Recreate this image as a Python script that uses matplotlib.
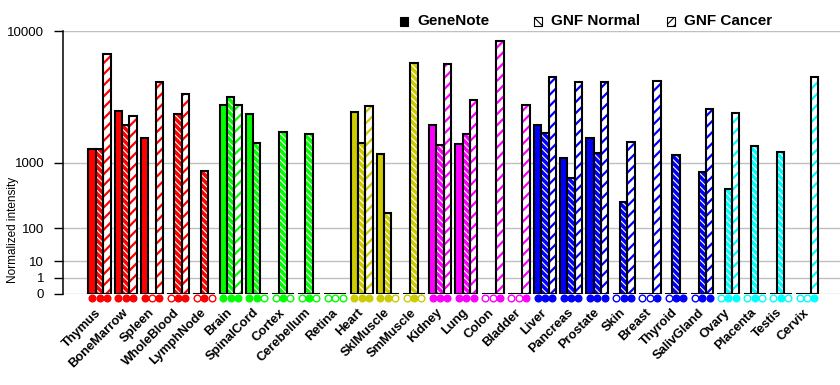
import numpy as np
import matplotlib
matplotlib.use("Agg")
import matplotlib.pyplot as plt
from matplotlib.patches import Rectangle

plt.rcParams['font.family'] = ['Liberation Sans', 'DejaVu Sans']

categories = ["Thymus", "BoneMarrow", "Spleen", "WholeBlood", "LymphNode",
              "Brain", "SpinalCord", "Cortex", "Cerebellum", "Retina",
              "Heart", "SklMuscle", "SmMuscle",
              "Kidney", "Lung", "Colon", "Bladder",
              "Liver", "Pancreas", "Prostate", "Skin", "Breast", "Thyroid", "SalivGland",
              "Ovary", "Placenta", "Testis", "Cervix"]

tissue_group = (["immune"] * 5 + ["neural"] * 5 + ["muscle"] * 3 +
                ["epithelial"] * 4 + ["glandular"] * 7 + ["reproductive"] * 4)
group_colors = {"immune": "#ff0000", "neural": "#00ff00", "muscle": "#cccc00",
                "epithelial": "#ff00ff", "glandular": "#0000ff", "reproductive": "#00ffff"}

genenote = [1400, 3000, 1780, 0, 0, 3370, 2860, 0, 0, 0, 2970, 1230, 0,
            2300, 1540, 0, 0, 2320, 1110, 1780, 0, 0, 0, 0, 0, 0, 0, 0]
gnf_normal = [1400, 2320, 0, 2860, 800, 3860, 1600, 2020, 1940, 0, 1580, 200, 6550,
              1510, 1940, 0, 0, 1980, 660, 1270, 310, 0, 1220, 790, 480, 1500, 1300, 0]
gnf_cancer = [7440, 2730, 4930, 4020, 0, 3370, 0, 0, 0, 0, 3270, 0, 0,
              6460, 3670, 8820, 3350, 5320, 4930, 4930, 1640, 4980, 0, 3140, 2920, 0, 0, 5320]

# present calls (1 = filled marker, 0 = open marker)
call_genenote = [1, 1, 1, 0, 0, 1, 1, 0, 0, 0, 1, 1, 0, 1, 1, 0, 0, 1, 1, 1, 0, 0, 0, 0, 0, 0, 0, 0]
call_normal = [1, 1, 0, 1, 1, 1, 1, 1, 1, 0, 1, 1, 1, 1, 1, 0, 0, 1, 1, 1, 1, 0, 1, 1, 1, 1, 1, 0]
call_cancer = [1, 1, 1, 1, 0, 1, 0, 0, 0, 0, 1, 0, 0, 1, 1, 1, 1, 1, 1, 1, 1, 1, 1, 1, 1, 0, 0, 1]

yticks = [0, 1, 10, 100, 1000, 10000]
ytick_labels = ["0", "1", "10", "100", "1000", "10000"]

W, H = 840, 385
fig = plt.figure(figsize=(W / 100, H / 100), dpi=100)
ax = fig.add_axes([63 / W, (H - 294) / H, (840 - 63) / W, (294 - 31.3) / H])

EXP = np.log10(2)


def fwd(v):
    return np.power(np.clip(np.asarray(v, float), 0, None), EXP)


def inv(v):
    return np.power(np.clip(np.asarray(v, float), 0, None), 1 / EXP)


ax.set_yscale('function', functions=(fwd, inv))

x = np.arange(len(categories))
colors = [group_colors[g] for g in tissue_group]
bw = 0.28
offs = [-bw, 0, bw]
lw_edge = 1.5

# GeneNote: solid
ax.bar(x + offs[0], genenote, width=bw, color=colors, edgecolor='black', linewidth=lw_edge, zorder=3)

# GNF Normal: colour with dense white back-slash hatch
with plt.rc_context({'hatch.linewidth': 0.8}):
    ax.bar(x + offs[1], gnf_normal, width=bw, color=colors, edgecolor='white',
           hatch='\\\\\\\\\\', linewidth=0, zorder=3)
ax.bar(x + offs[1], gnf_normal, width=bw, fill=False, edgecolor='black', linewidth=lw_edge, zorder=4)

# GNF Cancer: white with coloured forward-slash hatch
with plt.rc_context({'hatch.linewidth': 1.6}):
    ax.bar(x + offs[2], gnf_cancer, width=bw, color='white', edgecolor=colors,
           hatch='///', linewidth=0, zorder=3)
ax.bar(x + offs[2], gnf_cancer, width=bw, fill=False, edgecolor='black', linewidth=lw_edge, zorder=4)

# call markers below the axis
trans = ax.get_xaxis_transform()
for k, calls in enumerate([call_genenote, call_normal, call_cancer]):
    for i, c in enumerate(calls):
        ax.plot(x[i] + offs[k], -0.016, marker='o', markersize=4.8,
                markerfacecolor=colors[i] if c else 'white',
                markeredgecolor=colors[i], markeredgewidth=1.0,
                transform=trans, clip_on=False, zorder=5)

ax.set_xlim(-1.393, 28.26)
ax.set_ylim(0, 10000)
ax.set_yticks(yticks)
ax.set_yticklabels(ytick_labels, fontsize=9.5)
ax.yaxis.set_minor_locator(matplotlib.ticker.NullLocator())
ax.tick_params(axis='y', length=6.5, width=1.0, pad=7, colors='black')
ax.set_xticks(x)
ax.set_xticklabels(categories, rotation=45, ha='right', va='center',
                   rotation_mode='anchor', fontsize=9.3, fontweight='bold')
ax.tick_params(axis='x', length=0, pad=12)

ax.grid(axis='y', color='#c0c0c0', linewidth=1.0, zorder=0)
ax.set_axisbelow(True)
for s in ['top', 'right', 'bottom']:
    ax.spines[s].set_visible(False)
ax.spines['left'].set_linewidth(1.1)
ax.spines['left'].set_zorder(6)

ax.set_ylabel("Normalized intensity", fontsize=8.5)
ax.yaxis.set_label_coords(-0.0566, (294 - 230) / (294 - 31.3))

# legend
legend_items = [("GeneNote", dict(facecolor='black', edgecolor='black')),
                ("GNF Normal", dict(facecolor='white', edgecolor='black', hatch='\\\\\\\\')),
                ("GNF Cancer", dict(facecolor='white', edgecolor='black', hatch='////'))]
legend_x = [400, 534, 667]
with plt.rc_context({'hatch.linewidth': 0.8}):
    for (label, kw), lx in zip(legend_items, legend_x):
        fig.patches.append(Rectangle((lx / W, (H - 25.5) / H), 8 / W, 8 / H,
                                     transform=fig.transFigure, linewidth=0.8, **kw))
        fig.text((lx + 17) / W, (H - 21.3) / H, label, fontsize=11, fontweight='bold',
                 ha='left', va='center')

fig.savefig("out.png", dpi=100)
